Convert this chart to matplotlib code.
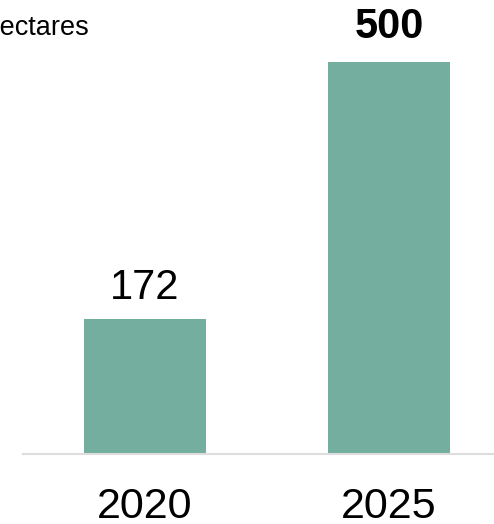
import matplotlib
matplotlib.use("Agg")
import matplotlib.pyplot as plt

years = ["2020", "2025"]
values = [172, 500]
bold = [False, True]
unit_label = "Hectares"

plt.rcParams['font.family'] = ['Liberation Sans', 'DejaVu Sans']

W, H = 494, 524
fig = plt.figure(figsize=(W / 100, H / 100), dpi=100)
# axes in pixel terms: left 23, right 494, bottom 454 (from top), top 0
ax = fig.add_axes([23 / W, (H - 454) / H, (W - 23) / W, 454 / H])

x = list(range(len(years)))
bars = ax.bar(x, values, width=0.5, color='#74ae9f')
ax.set_xlim(-0.5, 1.43)
ax.set_ylim(0, 579)

for rect, v, b in zip(bars, values, bold):
    ax.annotate(str(v), (rect.get_x() + rect.get_width() / 2, v),
                xytext=(0, 17 if b else 14.4), textcoords='offset points',
                ha='center', va='baseline', fontsize=30,
                fontweight='bold' if b else 'normal', color='black')

ax.set_xticks(x)
ax.set_xticklabels(years, fontsize=31)
ax.tick_params(axis='x', length=0, pad=24)
ax.set_yticks([])
for s in ['top', 'right', 'left']:
    ax.spines[s].set_visible(False)
ax.spines['bottom'].set_color('#dddddd')
ax.spines['bottom'].set_linewidth(1.5)

fig.text(89 / W, (H - 35) / H, unit_label, ha='right', va='baseline', fontsize=19.5)

fig.savefig('out.png', dpi=100)
